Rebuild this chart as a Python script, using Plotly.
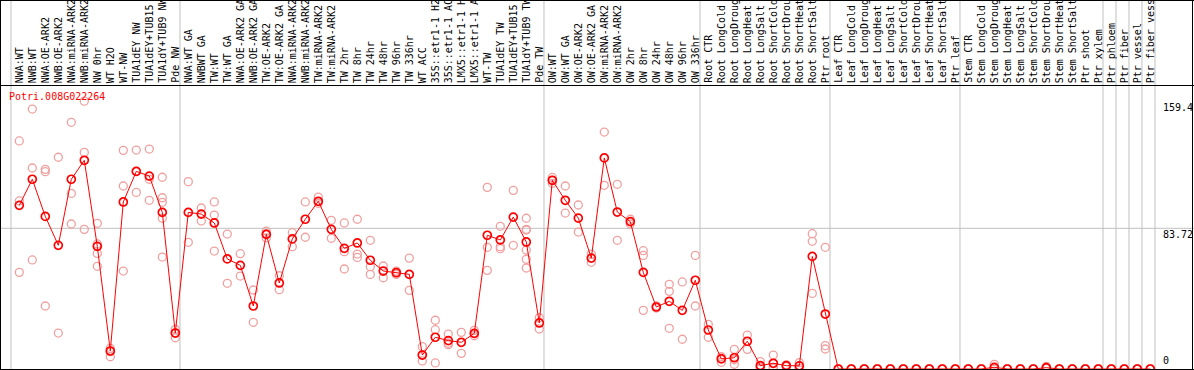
import plotly.graph_objects as go

W, H = 1194, 370

title_text = "Potri.008G022264"

group_sizes = [13, 28, 12, 10, 10, 11, 1, 1, 1, 1]

categories = [
    "NWA:WT", "NWB:WT", "NWA:OE-ARK2", "NWB:OE-ARK2", "NWA:miRNA-ARK2", "NWB:miRNA-ARK2",
    "NW 0hr", "WT H2O", "WT-NW", "TUA1dEY NW", "TUA1dEY+TUB15 NW", "TUA1dY+TUB9 NW", "Pde NW",
    "NWA:WT GA", "NWBWT GA", "TW:WT", "TW:WT GA", "NWA:OE-ARK2 GA", "NWB:OE-ARK2 GA",
    "TW:OE-ARK2", "TW:OE-ARK2 GA", "NWA:miRNA-ARK2 GA", "NWB:miRNA-ARK2 GA", "TW:miRNA-ARK2",
    "TW:miRNA-ARK2 GA", "TW 2hr", "TW 8hr", "TW 24hr", "TW 48hr", "TW 96hr", "TW 336hr",
    "WT ACC", "35S::etr1-1 H2O", "35S::etr1-1 ACC", "LMX5::etr1-1 H2O", "LMX5::etr1-1 ACC",
    "WT-TW", "TUA1dEY TW", "TUA1dEY+TUB15 TW", "TUA1dY+TUB9 TW", "Pde TW",
    "OW:WT", "OW:WT GA", "OW:OE-ARK2", "OW:OE-ARK2 GA", "OW:miRNA-ARK2", "OW:miRNA-ARK2 GA",
    "OW 2hr", "OW 8hr", "OW 24hr", "OW 48hr", "OW 96hr", "OW 336hr",
    "Root CTR", "Root LongCold", "Root LongDrought", "Root LongHeat", "Root LongSalt",
    "Root ShortCold", "Root ShortDrought", "Root ShortHeat", "Root ShortSalt", "Ptr root",
    "Leaf CTR", "Leaf LongCold", "Leaf LongDrought", "Leaf LongHeat", "Leaf LongSalt",
    "Leaf ShortCold", "Leaf ShortDrought", "Leaf ShortHeat", "Leaf ShortSalt", "Ptr leaf",
    "Stem CTR", "Stem LongCold", "Stem LongDrought", "Stem LongHeat", "Stem LongSalt",
    "Stem ShortCold", "Stem ShortDrought", "Stem ShortHeat", "Stem ShortSalt", "Ptr shoot",
    "Ptr xylem", "Ptr phloem", "Ptr fiber", "Ptr vessel", "Ptr fiber vessel",
]

means = [
    97.4, 112.9, 90.8, 73.6, 112.9, 124.2, 73.0, 10.7, 99.4, 117.6, 114.8, 93.2, 21.4,
    93.2, 92.2, 86.9, 65.5, 61.7, 37.5, 80.1, 51.2, 77.4, 89.1, 99.8, 83.1, 71.8, 75.0,
    64.7, 58.3, 57.3, 56.3, 8.3, 18.9, 16.9, 15.9, 21.2, 79.6, 76.8, 90.4, 75.6, 27.4,
    112.3, 100.4, 89.8, 66.0, 125.6, 93.4, 87.7, 57.5, 36.9, 40.3, 34.9, 52.8,
    23.2, 6.0, 6.7, 16.5, 2.0, 3.4, 2.0, 1.9, 67.0, 32.7,
    0, 0, 0, 0, 0, 0, 0, 0, 0, 0,
    0, 0, 1.0, 0, 0, 0, 0.8, 0, 0, 0, 0,
    0, 0, 0, 0,
]

replicates = [
    [135.7, 100.0, 57.5], [154.7, 119.6, 64.9], [118.8, 117.4, 37.5], [126.0, 21.4],
    [146.8, 104.5, 86.3], [159.4, 128.9, 83.1], [86.7, 74.4, 68.8, 61.1], [12.3, 10.3, 7.3],
    [130.1, 108.9, 58.3], [130.3, 105.1, 117.6], [130.9, 112.9, 100.4],
    [114.1, 101.9, 99.2, 89.7, 66.6], [23.6, 18.6, 21.4],
    [111.5, 75.4], [95.8, 88.1], [99.4, 91.6, 70.2], [80.3, 51.0], [68.6, 55.3], [47.0, 27.8],
    [82.1, 80.5, 78.0], [55.5, 47.2], [81.1, 72.8], [99.4, 78.4], [102.3, 98.6], [88.5, 77.8],
    [86.9, 69.8, 59.5], [89.1, 68.4, 66.4], [76.6, 60.9, 56.3], [61.3, 54.3], [58.3, 57.3, 56.3],
    [66.0, 46.8], [13.3, 8.3, 4.8], [29.0, 23.4, 3.6], [20.8, 15.3, 14.5], [21.8, 9.3],
    [23.0, 21.0, 19.8], [108.1, 72.4, 58.7], [84.9, 72.8, 71.6], [106.3, 73.6],
    [89.7, 83.1, 82.7, 70.8, 65.3, 60.1], [30.5, 23.8],
    [114.0, 112.3, 110.5], [108.9, 92.8], [97.6, 81.5], [68.4, 63.5], [141.0, 109.3],
    [109.9, 76.6], [89.1, 86.3], [70.4, 67.6, 34.9], [37.5, 36.3], [50.4, 46.2, 24.2],
    [51.8, 17.7], [67.6, 37.5],
    [26.6, 18.9], [7.3, 4.0, 6.5], [11.7, 2.8, 5.5], [20.2, 11.7], [4.4, 0.4, 1.2],
    [8.3, 1.0, 0.4], [2.5, 1.5], [3.8, 0.4], [80.5, 76.0, 45.0], [72.4, 13.9, 11.9],
    [0, 0, 0], [0, 0, 0], [0, 0, 0], [0, 0, 0], [0, 0, 0],
    [0, 0, 0], [0, 0, 0], [0, 0, 0], [0, 0, 0], [0, 0, 0],
    [0, 0, 0], [0, 0, 0], [2.8, 0.2, 0], [0, 0, 0], [0, 0, 0], [0, 0, 0],
    [1.5, 0.5, 0.4], [0, 0, 0], [0, 0, 0], [0, 0, 0], [0, 0, 0],
    [0, 0, 0], [0, 0, 0], [0, 0, 0], [0, 0, 0],
]

y_tick_values = [159.4, 83.72, 0]
y_tick_labels = ["159.4", "83.72", "0"]
grid_values = [83.72]

# ---- geometry (pixels) ----
PX0 = 19.3      # pixel x of first category
STEP = 13.0     # pixel step per category
PLOT_TOP = 85
PLOT_BOT = 369
Y_MAX = 169.0

def py(p):
    return (H - p) / H

def pxp(p):
    return p / W

FONT = "DejaVu Sans Mono"

fig = go.Figure()

rep_x, rep_y = [], []
for i, reps in enumerate(replicates):
    for v in reps:
        rep_x.append(i)
        rep_y.append(v)

fig.add_trace(go.Scatter(
    x=rep_x, y=rep_y, mode="markers",
    marker=dict(symbol="circle-open", size=8, color="#F0A0A0", line=dict(width=1.3)),
    hoverinfo="skip", showlegend=False,
))
fig.add_trace(go.Scatter(
    x=list(range(len(means))), y=means, mode="lines+markers",
    line=dict(color="#FF0000", width=1),
    marker=dict(symbol="circle-open", size=8, color="#FF0000", line=dict(width=1.7)),
    showlegend=False,
))

shapes = []
# group separators
b = 0
bounds = [0]
for g in group_sizes:
    b += g
    bounds.append(b)
for k in bounds:
    shapes.append(dict(type="line", xref="x", yref="paper", x0=k - 0.64, x1=k - 0.64,
                       y0=0, y1=1, line=dict(color="#C0C0C0", width=1), layer="below"))
# horizontal grid
for gv in grid_values:
    shapes.append(dict(type="line", xref="paper", yref="y", x0=0, x1=1, y0=gv, y1=gv,
                       line=dict(color="#C0C0C0", width=1), layer="below"))
# black frame lines
for yp in [0.5, PLOT_TOP + 0.5, PLOT_BOT + 0.5]:
    shapes.append(dict(type="line", xref="paper", yref="paper", x0=0, x1=1,
                       y0=py(yp), y1=py(yp), line=dict(color="black", width=1)))
for xp in [0.5, W - 1.5]:
    shapes.append(dict(type="line", xref="paper", yref="paper", x0=pxp(xp), x1=pxp(xp),
                       y0=0, y1=1, line=dict(color="black", width=1)))

annotations = []
for i, c in enumerate(categories):
    annotations.append(dict(
        x=i, xref="x", y=py(84), yref="paper", text=c, showarrow=False,
        textangle=-90, xanchor="center", yanchor="bottom",
        font=dict(family=FONT, size=10, color="black"), borderpad=0,
    ))

annotations.append(dict(
    x=pxp(8), xref="paper", y=py(96), yref="paper", text=title_text, showarrow=False,
    xanchor="left", yanchor="middle", font=dict(family=FONT, size=10, color="#FF0000"),
    borderpad=0,
))

for v, lab in zip(y_tick_values, y_tick_labels):
    if v == 0:
        annotations.append(dict(x=pxp(1162), xref="paper", y=v, yref="y", text=lab,
                                showarrow=False, xanchor="left", yanchor="bottom", yshift=2,
                                font=dict(family=FONT, size=10, color="black"), borderpad=0))
    else:
        annotations.append(dict(x=pxp(1162), xref="paper", y=v, yref="y", text=lab,
                                showarrow=False, xanchor="left", yanchor="top",
                                font=dict(family=FONT, size=10, color="black"), borderpad=0))

fig.update_layout(
    width=W, height=H,
    margin=dict(l=0, r=0, t=0, b=0, pad=0),
    paper_bgcolor="white", plot_bgcolor="white",
    xaxis=dict(visible=False, range=[-PX0 / STEP, (W - PX0) / STEP], domain=[0, 1],
               fixedrange=True),
    yaxis=dict(visible=False, range=[0, Y_MAX], domain=[py(PLOT_BOT), py(PLOT_TOP)],
               fixedrange=True),
    shapes=shapes, annotations=annotations,
    showlegend=False,
)

fig.write_html(
    "out.html",
    config={"displayModeBar": False},
    post_script="document.body.style.margin='0';document.body.style.overflow='hidden';",
)
